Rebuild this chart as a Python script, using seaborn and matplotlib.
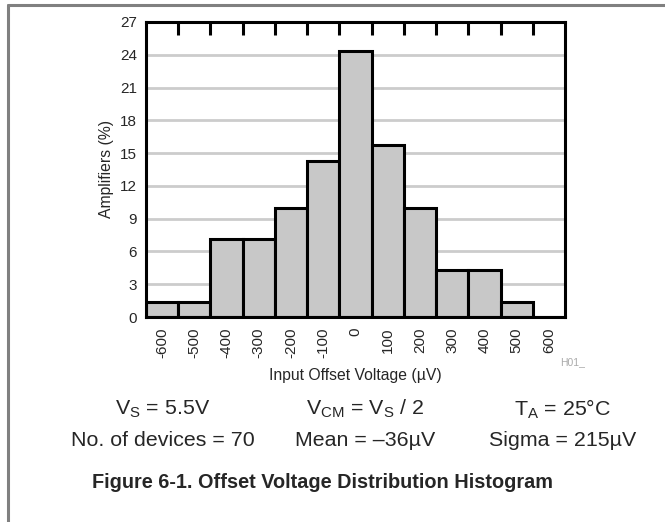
import numpy as np
import pandas as pd
import seaborn as sns
import matplotlib.pyplot as plt
from matplotlib.lines import Line2D

# ---- Data ----
bin_centers = [-600, -500, -400, -300, -200, -100, 0, 100, 200, 300, 400, 500, 600]
amplifiers_pct = [1.4, 1.4, 7.1, 7.1, 10.0, 14.3, 24.3, 15.7, 10.0, 4.3, 4.3, 1.4, 0.0]
y_ticks = [0, 3, 6, 9, 12, 15, 18, 21, 24, 27]
cond_row1 = ['V$\\mathregular{_S}$ = 5.5V', 'V$\\mathregular{_{CM}}$ = V$\\mathregular{_S}$ / 2', 'T$\\mathregular{_A}$ = 25°C']
cond_row2 = ['No. of devices = 70', 'Mean = \u201336µV', 'Sigma = 215µV']
title = 'Figure 6-1. Offset Voltage Distribution Histogram'

df = pd.DataFrame({'offset': bin_centers, 'pct': amplifiers_pct})
edges = [float(e) for e in np.arange(-650, 651, 100)]

# ---- Style ----
sns.set_style('white')
plt.rcParams['font.family'] = ['Liberation Sans', 'DejaVu Sans']
plt.rcParams['mathtext.fontset'] = 'custom'
plt.rcParams['mathtext.rm'] = 'Liberation Sans'

fig = plt.figure(figsize=(6.65, 5.22), dpi=100)
ax = fig.add_axes([0.2195, 0.3927, 0.6301, 0.5652])

# light horizontal grid behind the bars
for y in y_ticks[1:-1]:
    ax.axhline(y, color='#cccccc', lw=2, zorder=0)

sns.histplot(data=df, x='offset', weights='pct', bins=edges, ax=ax,
             color='#c8c8c8', alpha=1, edgecolor='black', linewidth=2.2, zorder=2)

ax.set_xlim(-650, 650)
ax.set_ylim(0, 27)
ax.set_yticks(y_ticks)
ax.set_xticks(bin_centers)
ax.set_xticklabels([str(v) for v in bin_centers], rotation=90)
ax.set_xticks(edges[1:-1], minor=True)
ax.tick_params(axis='x', which='major', bottom=False, top=False, labelsize=11, pad=4)
ax.tick_params(axis='x', which='minor', bottom=False, top=True, direction='in', length=9, width=2.2, color='black')
ax.tick_params(axis='y', left=False, labelsize=11, pad=3)
for s in ax.spines.values():
    s.set_visible(True)
    s.set_color('black')
    s.set_linewidth(2.2)

ax.set_xlabel('Input Offset Voltage (µV)', fontsize=11.3, labelpad=7)
ax.set_ylabel('Amplifiers (%)', fontsize=11.3, labelpad=4)
fig.text(573 / 665, 1 - 362 / 522, 'H01_', fontsize=7.5, color='#aaaaaa', ha='center', va='center')

# ---- Conditions and caption ----
col_x = [163, 365, 563]
for x, t in zip(col_x, cond_row1):
    fig.text(x / 665, 1 - 409 / 522, t, fontsize=15.4, ha='center', va='center')
for x, t in zip(col_x, cond_row2):
    fig.text(x / 665, 1 - 440 / 522, t, fontsize=15.4, ha='center', va='center')
fig.text(323 / 665, 1 - 483 / 522, title, fontsize=14.3, fontweight='bold', ha='center', va='center')

# ---- Frame lines ----
fig.add_artist(Line2D([8 / 665, 1], [1 - 4.5 / 522] * 2, color='#808080', lw=2.2))
fig.add_artist(Line2D([8 / 665] * 2, [0, 1 - 4.5 / 522], color='#808080', lw=2.2))

fig.savefig('out.png', dpi=100)
